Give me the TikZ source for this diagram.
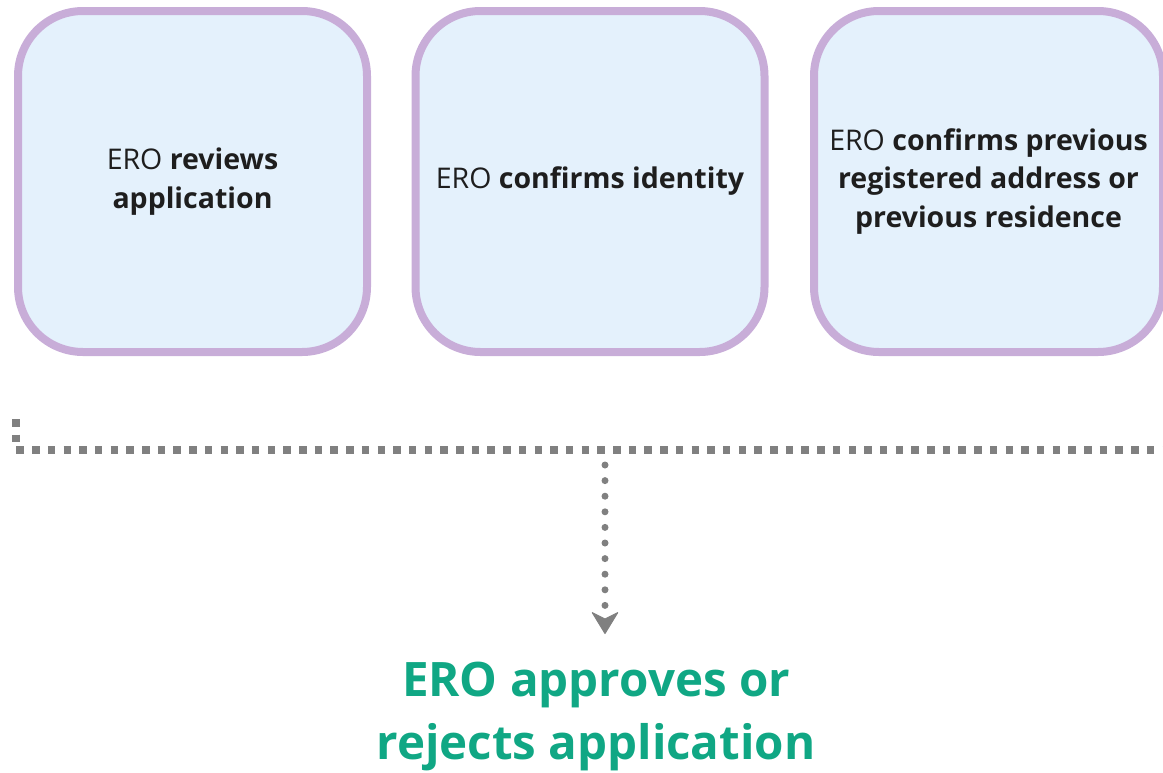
\documentclass[tikz,border=0pt]{standalone}
\usepackage{fontspec}
\setmainfont{Open Sans}
\usetikzlibrary{arrows.meta}
\definecolor{boxfill}{HTML}{E4F1FC}
\definecolor{boxline}{HTML}{C8ADD8}
\definecolor{dotgray}{HTML}{808080}
\definecolor{txtdark}{HTML}{1E1E1E}
\definecolor{green}{HTML}{10A784}
\tikzset{
  stepbox/.style={draw=boxline, fill=boxfill, line width=8pt, rounded corners=65pt,
    minimum width=349pt, minimum height=341pt, align=center, text=txtdark,
    font={\fontsize{28.5}{38.5}\selectfont}},
  bracket/.style={draw=dotgray, line width=7.5pt, dash pattern=on 7.5pt off 8.2pt},
  dotarrow/.style={draw=dotgray, line width=7pt, line cap=round, dash pattern=on 0pt off 15.6pt,
    -{Stealth[length=23pt,width=28pt,inset=7pt,line width=1pt,round]}},
  result/.style={align=center, text=green, font={\bfseries\fontsize{47.5}{63}\selectfont}}
}
\begin{document}
\begin{tikzpicture}[x=1pt,y=-1pt]
\useasboundingbox (0,0) rectangle (1163,772);
\node[stepbox] (review) at (192.5,181.5) {ERO \textbf{reviews}\\\textbf{application}};
\node[stepbox] (identity) at (590,181.5) {ERO \textbf{confirms identity}};
\node[stepbox] (address) at (988.5,181.5) {ERO \textbf{confirms previous}\\\textbf{registered address or}\\\textbf{previous residence}};
\coordinate (bstart) at (16,419);
\coordinate (bcorner) at (16,450);
\coordinate (bend) at (1175,450);
\coordinate (split) at (605,465);
\node[result] (decision) at (596,716) {ERO approves or\\rejects application};
\draw[bracket] (bstart) -- (bcorner) -- (bend);
\draw[dotarrow] (split) -- (605,634) coordinate (tip);
\end{tikzpicture}
\end{document}
